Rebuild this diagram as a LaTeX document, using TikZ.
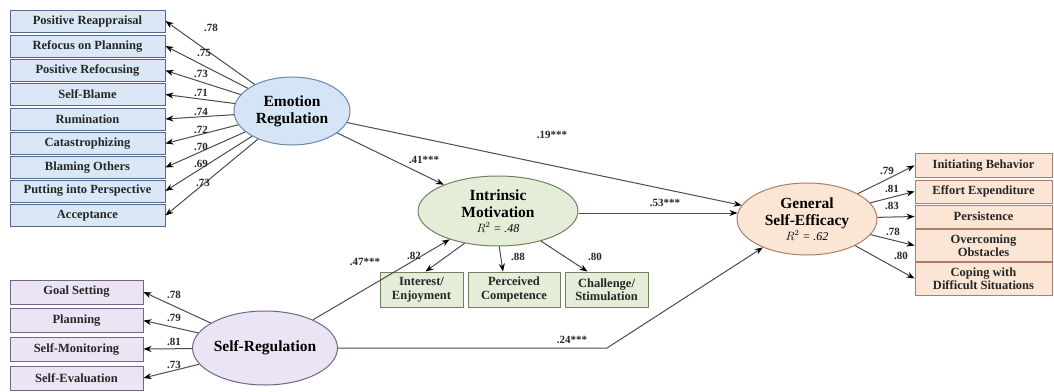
\documentclass[tikz,border=0pt]{standalone}
\usepackage{fontspec}
\setmainfont{Liberation Serif}
\usetikzlibrary{arrows.meta,calc,shapes.geometric}
\definecolor{bfill}{RGB}{217,231,246}
\definecolor{bdraw}{RGB}{85,105,140}
\definecolor{befill}{RGB}{214,229,246}
\definecolor{bedraw}{RGB}{105,135,175}
\definecolor{pfill}{RGB}{234,228,244}
\definecolor{pdraw}{RGB}{115,100,140}
\definecolor{gfill}{RGB}{229,237,216}
\definecolor{gdraw}{RGB}{110,130,95}
\definecolor{ofill}{RGB}{251,229,213}
\definecolor{odraw}{RGB}{175,125,105}
\newcommand{\myRsqFont}{\normalfont\itshape\fontsize{12}{13}\selectfont}
\begin{document}
\begin{tikzpicture}[x=1pt,y=-1pt,
  ind/.style={draw, line width=0.9pt, inner sep=1pt, align=center, text=black!85,
    font=\bfseries\fontsize{12.5}{13.5}\selectfont},
  lat/.style={ellipse, draw, line width=1pt, inner sep=0pt, align=center,
    font=\bfseries\fontsize{15.5}{17}\selectfont},
  arr/.style={draw=black!70, line width=1pt, -{Stealth[length=8pt,width=6pt,color=black]}},
  lbl/.style={font=\bfseries\fontsize{11}{12}\selectfont, inner sep=0pt, text=black!85}
]
\path[use as bounding box, fill=white] (0,0) rectangle (1054,391);

% Emotion regulation indicators
\foreach \i/\t/\y in {1/Positive Reappraisal/21, 2/Refocus on Planning/46, 3/Positive Refocusing/70.5,
  4/Self-Blame/94.5, 5/Rumination/119, 6/Catastrophizing/143.5, 7/Blaming Others/167.5,
  8/Putting into Perspective/191, 9/Acceptance/215.5}
  \node[ind, fill=bfill, draw=bdraw, minimum width=155pt, minimum height=22pt] (e\i) at (87.5,\y) {\t};

% Self-regulation indicators
\foreach \i/\t/\y in {1/Goal Setting/292, 2/Planning/320.5, 3/Self-Monitoring/349, 4/Self-Evaluation/378}
  \node[ind, fill=pfill, draw=pdraw, minimum width=133pt, minimum height=24pt] (s\i) at (76.5,\y) {\t};

% Intrinsic motivation indicators
\node[ind, fill=gfill, draw=gdraw, minimum width=83pt, minimum height=35pt] (m1) at (421.5,289.5) {Interest/\\Enjoyment};
\node[ind, fill=gfill, draw=gdraw, minimum width=92pt, minimum height=35pt] (m2) at (514,289.5) {Perceived\\Competence};
\node[ind, fill=gfill, draw=gdraw, minimum width=83pt, minimum height=35pt] (m3) at (606.5,289.5) {Challenge/\\Stimulation};

% General self-efficacy indicators
\node[ind, fill=ofill, draw=odraw, minimum width=137pt, minimum height=24pt] (g1) at (983.5,165.5) {Initiating Behavior};
\node[ind, fill=ofill, draw=odraw, minimum width=137pt, minimum height=23pt] (g2) at (983.5,191.5) {Effort Expenditure};
\node[ind, fill=ofill, draw=odraw, minimum width=137pt, minimum height=23pt] (g3) at (983.5,216.5) {Persistence};
\node[ind, fill=ofill, draw=odraw, minimum width=137pt, minimum height=32pt] (g4) at (983.5,245.5) {Overcoming\\Obstacles};
\node[ind, fill=ofill, draw=odraw, minimum width=137pt, minimum height=33pt] (g5) at (983.5,278.5) {Coping with\\Difficult Situations};

% Latent variables
\node[lat, fill=befill, draw=bedraw, minimum width=116pt, minimum height=68pt] (er) at (292,111) {Emotion\\Regulation};
\node[lat, fill=pfill, draw=pdraw, minimum width=140pt, minimum height=74pt] (sr) at (265,348) {Self-Regulation};
\node[lat, fill=gfill, draw=gdraw, minimum width=160pt, minimum height=70pt] (im) at (498,211) {Intrinsic\\Motivation\\[-2pt]{\myRsqFont $R^2$ = .48}};
\node[lat, fill=ofill, draw=odraw, minimum width=140pt, minimum height=72pt] (gse) at (807,219) {General\\Self-Efficacy\\[-2pt]{\myRsqFont $R^2$ = .62}};

% Measurement arrows
\foreach \i in {1,...,9} \draw[arr] (er) -- (e\i.east);
\foreach \i in {1,...,4} \draw[arr] (sr) -- (s\i.east);
\draw[arr] (im.224) -- ($(m1.north)+(4,0)$);
\draw[arr] (im.272) -- ($(m2.north)+(-11,0)$);
\draw[arr] (im.325) -- ($(m3.north)+(-19,0)$);
\foreach \i in {1,...,5} \draw[arr] (gse) -- (g\i.west);

% Structural paths
\draw[arr] (er) -- (im);
\draw[arr] (er) -- (gse);
\draw[arr] (sr) -- (im);
\draw[arr] ($(im.east)+(0,2)$) -- ($(im.east -| gse.west)+(1,2)$);
\coordinate (bend) at (607,348);
\draw[arr] (sr.east) -- (bend) -- (gse);

% Loadings
\foreach \t/\x/\y in {.78/211/28, .75/204/53, .73/201/74, .71/201/93, .74/201/112,
  .72/201/130, .70/201/147, .69/201/164, .73/203/183}
  \node[lbl] (le\x\y) at (\x,\y) {\t};
\foreach \t/\y in {.78/295, .79/318, .81/342, .73/365}
  \node[lbl] (ls\y) at (174,\y) {\t};
\node[lbl] (lm1) at (414,256) {.82};
\node[lbl] (lm2) at (518,257) {.88};
\node[lbl] (lm3) at (595,257) {.80};
\node[lbl] (lg1) at (887,171) {.79};
\node[lbl] (lg2) at (892,189) {.81};
\node[lbl] (lg3) at (892,206) {.83};
\node[lbl] (lg4) at (893,232) {.78};
\node[lbl] (lg5) at (901,256) {.80};

% Path coefficients
\node[lbl] (p1) at (424,160) {.41***};
\node[lbl] (p2) at (552,135) {.19***};
\node[lbl] (p3) at (665,203) {.53***};
\node[lbl] (p4) at (365,262) {.47***};
\node[lbl] (p5) at (572,340) {.24***};
\end{tikzpicture}
\end{document}
